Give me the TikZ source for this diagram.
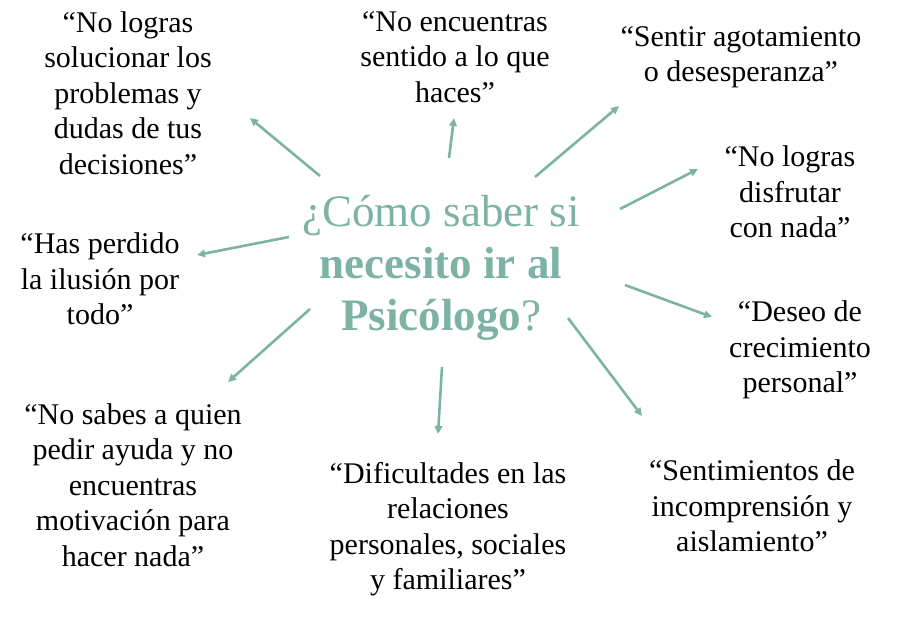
\documentclass[tikz,border=0pt]{standalone}
\usepackage{fontspec}
\setmainfont{Liberation Serif}
\usetikzlibrary{arrows.meta}
\definecolor{teal1}{RGB}{124,179,164}
\begin{document}
\begin{tikzpicture}[x=1pt,y=-1pt,
  lbl/.style={align=center,inner sep=0pt,font=\fontsize{30}{35.5}\selectfont,text=black},
  ttl/.style={align=center,inner sep=0pt,font=\fontsize{45}{52}\selectfont,text=teal1},
  arr/.style={draw=teal1,line width=2.6pt,-{Triangle[length=8pt,width=7.5pt]}}]
\useasboundingbox (0,0) rectangle (900,619);
\node[ttl] (title) at (441,268) {¿Cómo saber si\\\textbf{necesito ir al}\\\textbf{Psicólogo}?};
\node[lbl] (n1) at (128,93) {“No logras\\solucionar los\\problemas y\\dudas de tus\\decisiones”};
\node[lbl] (n2) at (455,57) {“No encuentras\\sentido a lo que\\haces”};
\node[lbl] (n3) at (741,57) {“Sentir agotamiento\\o desesperanza”};
\node[lbl] (n4) at (790,192) {“No logras\\disfrutar\\con nada”};
\node[lbl] (n5) at (100,279) {“Has perdido\\la ilusión por\\todo”};
\node[lbl] (n6) at (800,350) {“Deseo de\\crecimiento\\personal”};
\node[lbl] (n7) at (133,485) {“No sabes a quien\\pedir ayuda y no\\encuentras\\motivación para\\hacer nada”};
\node[lbl] (n8) at (448,529) {“Dificultades en las\\relaciones\\personales, sociales\\y familiares”};
\node[lbl] (n9) at (752,506) {“Sentimientos de\\incomprensión y\\aislamiento”};
\coordinate (t1) at (320,176); \coordinate (h1) at (250,118);
\coordinate (t2) at (449,158); \coordinate (h2) at (454,118);
\coordinate (t3) at (535,177); \coordinate (h3) at (619,106);
\coordinate (t4) at (620,209); \coordinate (h4) at (698,169);
\coordinate (t5) at (289,237); \coordinate (h5) at (197,255);
\coordinate (t6) at (625,285); \coordinate (h6) at (712,317);
\coordinate (t7) at (310,309); \coordinate (h7) at (228,382);
\coordinate (t8) at (442,367); \coordinate (h8) at (438,434);
\coordinate (t9) at (568,318); \coordinate (h9) at (642,416);
\foreach \i in {1,...,9} {\draw[arr] (t\i) -- (h\i);}
\end{tikzpicture}
\end{document}
